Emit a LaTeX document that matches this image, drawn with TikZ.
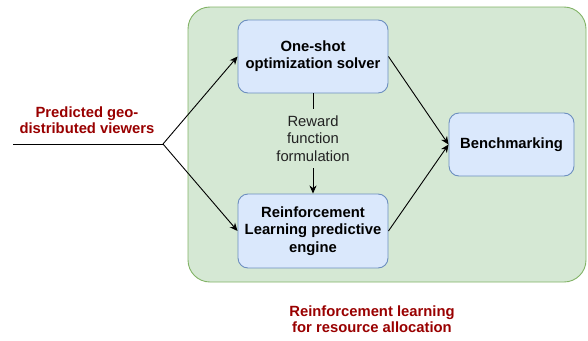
\documentclass[tikz,border=0pt]{standalone}
\usepackage{fontspec}
\setmainfont{Liberation Sans}
\usetikzlibrary{arrows.meta}
\definecolor{grfill}{HTML}{D5E8D4}
\definecolor{grline}{HTML}{82B366}
\definecolor{blfill}{HTML}{DAE8FC}
\definecolor{blline}{HTML}{6C8EBF}
\definecolor{darkred}{HTML}{990000}
\definecolor{txtgray}{HTML}{222222}
\tikzset{
  x=1pt, y=-1pt,
  container/.style={draw=grline, fill=grfill, line width=0.9pt, rounded corners=22pt},
  bluebox/.style={draw=blline, fill=blfill, line width=0.9pt, rounded corners=10pt,
    align=center, inner sep=0pt, font=\fontsize{14.8}{17.3}\selectfont\bfseries},
  redlabel/.style={text=darkred, align=center, inner sep=0pt, font=\fontsize{14.8}{16.5}\selectfont\bfseries},
  conn/.style={line width=0.9pt, draw=black},
  arr/.style={conn, -{Stealth[length=8pt,width=7pt,inset=2.5pt]}},
}
\begin{document}
\begin{tikzpicture}
\useasboundingbox (0,0) rectangle (588,340);
\draw[container] (188,7) rectangle (586,282);
\node[bluebox, minimum width=150pt, minimum height=73pt] (solver) at (313,56.5) {One-shot\\optimization solver};
\node[bluebox, minimum width=150pt, minimum height=74pt] (rl) at (313,231) {Reinforcement\\Learning predictive\\engine};
\node[bluebox, minimum width=125pt, minimum height=63pt] (bench) at (511.5,144.5) {Benchmarking};
\node[align=center, inner xsep=0pt, inner ysep=7pt, text=txtgray, font=\fontsize{14.8}{17.3}\selectfont] (reward) at (313,138.5) {Reward\\function\\formulation};
\node[redlabel] (viewers) at (87,120) {Predicted geo-\\distributed viewers};
\node[redlabel] (ralabel) at (372,319) {Reinforcement learning\\for resource allocation};
\coordinate (start) at (13,144);
\coordinate (split) at (163,144);
\draw[conn] (start) -- (split);
\draw[arr] (split) -- (solver.west);
\draw[arr] (split) -- (rl.west);
\draw[conn] (solver.south) -- (reward.north);
\draw[arr] (reward.south) -- (rl.north);
\draw[arr] (solver.east) -- (bench.west);
\draw[arr] (rl.east) -- (bench.west);
\end{tikzpicture}
\end{document}
